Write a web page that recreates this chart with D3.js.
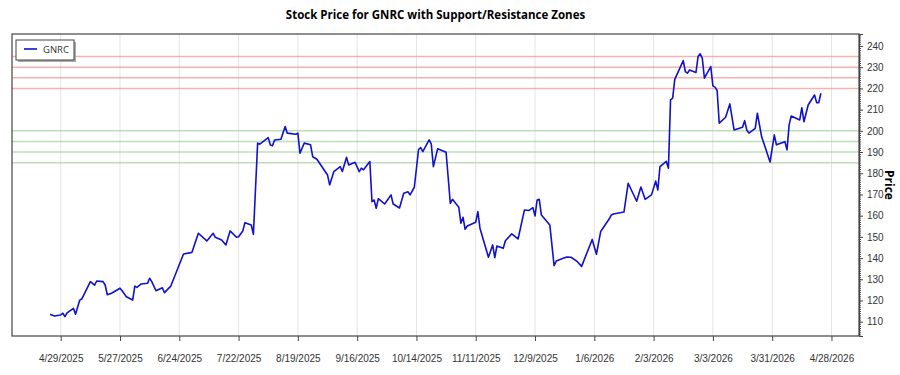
<!DOCTYPE html>
<html>
<head>
<meta charset="utf-8">
<script src="https://cdn.jsdelivr.net/npm/d3@7"></script>
<style>
  body { margin: 0; background: #fff; }
  svg { font-family: "Open Sans", "Noto Sans", sans-serif; }
</style>
</head>
<body>
<div id="chart"></div>
<script>
// price series
var dates = [
  "2025-04-24","2025-04-26","2025-04-29","2025-04-30","2025-05-01","2025-05-02","2025-05-05","2025-05-06",
  "2025-05-08","2025-05-09","2025-05-13","2025-05-15","2025-05-16","2025-05-19","2025-05-20","2025-05-21",
  "2025-05-23","2025-05-27","2025-05-28","2025-05-30","2025-06-02","2025-06-03","2025-06-04","2025-06-06",
  "2025-06-09","2025-06-10","2025-06-11","2025-06-13","2025-06-16","2025-06-17","2025-06-20","2025-06-23",
  "2025-06-26","2025-06-30","2025-07-03","2025-07-07","2025-07-10","2025-07-11","2025-07-14","2025-07-16",
  "2025-07-18","2025-07-21","2025-07-22","2025-07-24","2025-07-25","2025-07-28","2025-07-29","2025-07-31",
  "2025-08-01","2025-08-05","2025-08-06","2025-08-07","2025-08-08","2025-08-11","2025-08-13","2025-08-14",
  "2025-08-18","2025-08-19","2025-08-20","2025-08-22","2025-08-25","2025-08-26","2025-08-28","2025-09-02",
  "2025-09-03","2025-09-05","2025-09-08","2025-09-09","2025-09-11","2025-09-12","2025-09-15","2025-09-17",
  "2025-09-18","2025-09-19","2025-09-22","2025-09-23","2025-09-24","2025-09-25","2025-09-26","2025-09-29",
  "2025-10-02","2025-10-03","2025-10-06","2025-10-08","2025-10-10","2025-10-11","2025-10-13","2025-10-15",
  "2025-10-16","2025-10-17","2025-10-20","2025-10-21","2025-10-22","2025-10-24","2025-10-28","2025-10-30",
  "2025-10-31","2025-11-03","2025-11-04","2025-11-05","2025-11-06","2025-11-07","2025-11-11","2025-11-12",
  "2025-11-13","2025-11-17","2025-11-19","2025-11-20","2025-11-21","2025-11-24","2025-11-25","2025-11-28",
  "2025-12-01","2025-12-04","2025-12-06","2025-12-08","2025-12-09","2025-12-10","2025-12-11","2025-12-12",
  "2025-12-16","2025-12-18","2025-12-19","2025-12-22","2025-12-24","2025-12-26","2025-12-29","2025-12-31",
  "2026-01-05","2026-01-07","2026-01-09","2026-01-13","2026-01-14","2026-01-15","2026-01-20","2026-01-22",
  "2026-01-26","2026-01-28","2026-01-30","2026-02-02","2026-02-04","2026-02-05","2026-02-06","2026-02-09",
  "2026-02-10","2026-02-11","2026-02-12","2026-02-13","2026-02-17","2026-02-18","2026-02-19","2026-02-20",
  "2026-02-23","2026-02-24","2026-02-25","2026-02-26","2026-02-27","2026-03-02","2026-03-03","2026-03-04",
  "2026-03-05","2026-03-06","2026-03-09","2026-03-11","2026-03-13","2026-03-17","2026-03-18","2026-03-19",
  "2026-03-20","2026-03-23","2026-03-24","2026-03-26","2026-03-30","2026-04-01","2026-04-02","2026-04-06",
  "2026-04-07","2026-04-08","2026-04-09","2026-04-13","2026-04-14","2026-04-15","2026-04-17","2026-04-20",
  "2026-04-21","2026-04-22","2026-04-23"
];
var prices = [
  113.5,112.7,113.2,114.0,112.4,114.2,116.3,113.5,
  120.2,120.8,128.9,127.2,129.2,128.9,127.3,122.7,
  123.4,125.8,124.6,121.8,120.2,126.8,126.2,127.8,
  128.1,130.5,128.9,124.6,126.0,123.7,126.8,134.4,
  141.9,142.7,151.7,148.1,151.7,149.8,148.5,146.2,
  152.8,149.8,150.1,152.8,156.7,155.6,151.2,194.2,
  193.7,196.8,193.3,193.0,195.7,196.0,202.0,198.9,
  198.4,198.9,189.4,194.2,193.4,187.8,186.6,179.2,
  174.5,180.8,183.1,180.8,187.5,183.9,185.2,180.8,
  182.4,181.6,185.5,166.6,167.4,163.5,168.0,165.5,
  169.8,165.5,163.6,170.6,171.3,169.8,173.4,191.2,
  192.1,190.2,195.7,193.8,183.1,191.5,189.9,165.8,
  167.7,164.0,156.4,159.2,153.6,155.1,156.9,161.9,
  154.1,140.4,146.2,140.2,145.7,144.6,148.2,151.4,
  149.0,162.7,162.4,163.8,159.9,167.4,167.7,160.3,
  155.6,136.4,138.6,139.8,140.5,140.4,138.3,136.1,
  148.8,141.8,152.5,158.4,160.3,160.8,161.7,175.3,
  166.8,173.5,167.7,169.8,176.3,172.1,183.1,185.6,
  182.4,214.6,215.4,224.3,233.1,227.9,227.2,228.7,
  227.5,235.0,236.3,234.2,224.8,230.3,221.2,220.6,
  219.0,203.6,206.4,212.7,200.4,201.7,204.8,200.4,
  198.9,201.2,208.3,197.3,185.3,198.1,193.4,194.9,
  191.0,202.8,207.0,205.1,210.9,204.3,212.2,216.9,
  213.3,213.3,217.7
];
var resistance = [220, 225, 230, 235];
var support = [185, 190, 195, 200];
var tickDates = ["2025-04-29","2025-05-27","2025-06-24","2025-07-22","2025-08-19","2025-09-16","2025-10-14",
  "2025-11-11","2025-12-09","2026-01-06","2026-02-03","2026-03-03","2026-03-31","2026-04-28"];
var priceTicks = [110, 120, 130, 140, 150, 160, 170, 180, 190, 200, 210, 220, 230, 240];

var W = 900, H = 375;
var margin = {top: 34, right: 41, bottom: 39, left: 12};
var innerW = W - margin.left - margin.right;
var innerH = H - margin.top - margin.bottom;

var parse = d3.timeParse("%Y-%m-%d");
var fmt = d3.timeFormat("%-m/%-d/%Y");
var data = dates.map(function (d, i) { return {date: parse(d), price: prices[i]}; });

var svg = d3.select("#chart").append("svg").attr("width", W).attr("height", H);

//title
svg.append("text")
  .attr("x", margin.left + innerW / 2).attr("y", 19)
  .attr("text-anchor", "middle")
  .style("font-size", "11.5px").style("font-weight", "bold").style("fill", "#000")
  .text("Stock Price for GNRC with Support/Resistance Zones");

var g = svg.append("g").attr("transform", "translate(" + margin.left + "," + margin.top + ")");

var x = d3.scaleTime()
  .domain([d3.timeDay.offset(parse("2025-04-29"), -22.7), d3.timeDay.offset(parse("2026-04-28"), 13.2)])
  .range([0, innerW]);
var y = d3.scaleLinear().domain([103.26, 245.66]).range([innerH, 0]);

//vertical grid lines
g.selectAll(".vgrid").data(tickDates).enter().append("line")
  .attr("x1", function (d) { return x(parse(d)); }).attr("x2", function (d) { return x(parse(d)); })
  .attr("y1", 0).attr("y2", innerH)
  .style("stroke", "#e4e4e4").style("stroke-width", 1);

//support / resistance zones
g.selectAll(".res").data(resistance).enter().append("line")
  .attr("x1", 0).attr("x2", innerW)
  .attr("y1", function (d) { return y(d); }).attr("y2", function (d) { return y(d); })
  .style("stroke", "#f08080").style("stroke-opacity", 0.6).style("stroke-width", 1.5);
g.selectAll(".sup").data(support).enter().append("line")
  .attr("x1", 0).attr("x2", innerW)
  .attr("y1", function (d) { return y(d); }).attr("y2", function (d) { return y(d); })
  .style("stroke", "#8fc88a").style("stroke-opacity", 0.6).style("stroke-width", 1.5);

//price line
var line = d3.line().x(function (d) { return x(d.date); }).y(function (d) { return y(d.price); });
g.append("path").datum(data)
  .attr("d", line)
  .style("fill", "none").style("stroke", "#1111cc").style("stroke-width", 1.6)
  .style("stroke-linejoin", "round");

//plot frame
g.append("rect").attr("width", innerW).attr("height", innerH)
  .style("fill", "none").style("stroke", "#444").style("stroke-width", 1.2);

//x axis
var xAxis = g.append("g").attr("transform", "translate(0," + innerH + ")")
  .call(d3.axisBottom(x).tickValues(tickDates.map(parse)).tickFormat(fmt).tickSize(5).tickPadding(14));
xAxis.select(".domain").remove();
xAxis.selectAll("line").style("stroke", "#444");
xAxis.selectAll("text").style("font-size", "10px").style("fill", "#333");

//y axis on the right with minor ticks
var minor = d3.range(104, 246, 1);
var yMinor = g.append("g").attr("transform", "translate(" + innerW + ",0)")
  .call(d3.axisRight(y).tickValues(minor).tickFormat("").tickSize(2));
yMinor.select(".domain").remove();
yMinor.selectAll("line").style("stroke", "#444");
var yAxis = g.append("g").attr("transform", "translate(" + innerW + ",0)")
  .call(d3.axisRight(y).tickValues(priceTicks).tickSize(4).tickPadding(4));
yAxis.select(".domain").style("stroke", "#444");
yAxis.selectAll("line").style("stroke", "#444");
yAxis.selectAll("text").style("font-size", "10px").style("fill", "#333");

svg.append("text")
  .attr("transform", "translate(885," + (margin.top + innerH / 2) + ") rotate(90)")
  .attr("text-anchor", "middle")
  .style("font-size", "12px").style("font-weight", "bold")
  .text("Price");

//legend
var lg = svg.append("g").attr("transform", "translate(16,40)");
lg.append("rect").attr("x", 2).attr("y", 2).attr("width", 58).attr("height", 20).style("fill", "#aaa");
lg.append("rect").attr("width", 58).attr("height", 20)
  .style("fill", "#fff").style("stroke", "#444").style("stroke-width", 1);
lg.append("line").attr("x1", 8).attr("x2", 21).attr("y1", 9).attr("y2", 9)
  .style("stroke", "#1111cc").style("stroke-width", 1.6);
lg.append("text").attr("x", 27).attr("y", 12.5)
  .style("font-size", "9.5px").style("fill", "#333").text("GNRC");
</script>
</body>
</html>
